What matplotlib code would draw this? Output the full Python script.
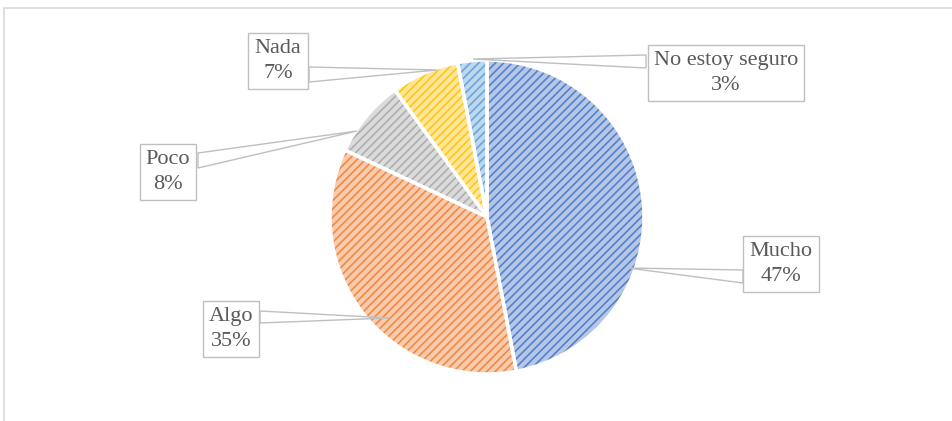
import numpy as np
import matplotlib.pyplot as plt
import matplotlib.colors as mcolors
from matplotlib.patches import Polygon, Rectangle

#%% datos
categorias = ['Mucho', 'Algo', 'Poco', 'Nada', 'No estoy seguro']
valores = [47, 35, 8, 7, 3]
colores = ['#4472C4', '#ED7D31', '#A5A5A5', '#FFC000', '#5B9BD5']

W, H = 952, 421
plt.rcParams['font.family'] = ['Liberation Serif', 'DejaVu Serif']
plt.rcParams['hatch.linewidth'] = 1.2

fig = plt.figure(figsize=(W / 100, H / 100), dpi=100)
ax = fig.add_axes([0, 0, 1, 1])

def py(y):
    # pixel y (desde arriba) -> coordenada de datos
    return H - y

def aclarar(c, f=0.6):
    r = np.array(mcolors.to_rgb(c))
    return tuple(r + (1 - r) * f)

centro = (487, py(217))
radio = 157

#%% pastel con rayado
cunas, _ = ax.pie(valores, startangle=90, counterclock=False,
                  center=centro, radius=radio)
for w, c in zip(cunas, colores):
    w.set_facecolor(aclarar(c))
    w.set_edgecolor(aclarar(c, 0.1))
    w.set_hatch('////')
    w.set_linewidth(0)

# bordes blancos entre porciones
bordes, _ = ax.pie(valores, startangle=90, counterclock=False,
                   center=centro, radius=radio,
                   wedgeprops=dict(facecolor='none', edgecolor='white', linewidth=2.5))

#%% etiquetas con caja y linea guia
# (centro texto, punta de la guia, base de la guia en el borde de la caja)
etiquetas = [
    ((781, 264), (628, 268), (743, 270), (743, 283)),
    ((231, 329), (389, 318), (260, 311), (260, 323)),
    ((168, 172), (357, 131), (198, 153), (198, 168)),
    ((278, 61), (437, 70), (309, 67), (309, 82)),
    ((726, 73), (473, 59), (646, 55), (646, 68)),
]
for cat, v, (pos, punta, b1, b2) in zip(categorias, valores, etiquetas):
    guia = Polygon([(punta[0], py(punta[1])), (b1[0], py(b1[1])), (b2[0], py(b2[1]))],
                   closed=True, fill=False, edgecolor='#bfbfbf', linewidth=1, zorder=4)
    ax.add_patch(guia)
    ax.text(pos[0], py(pos[1]), f'{cat}\n{v}%', ha='center', va='center',
            fontsize=16, color='#595959', linespacing=1.4, zorder=5,
            bbox=dict(boxstyle='square,pad=0.28', facecolor='white',
                      edgecolor='#bfbfbf', linewidth=1))

# marco del grafico
ax.add_patch(Rectangle((4, -20), W + 20, py(8) + 20, fill=False,
                       edgecolor='#d9d9d9', linewidth=1.2))

ax.set_xlim(0, W)
ax.set_ylim(0, H)
ax.axis('off')

fig.savefig('out.png', dpi=100)
